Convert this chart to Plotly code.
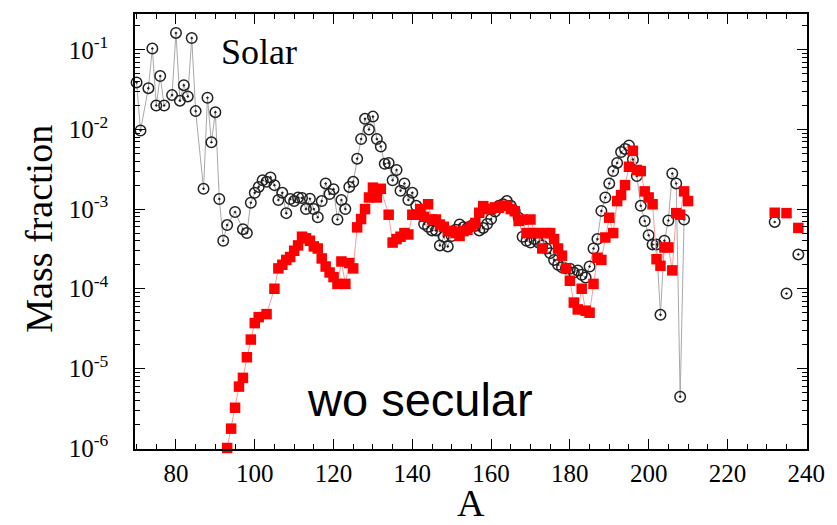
import plotly.graph_objects as go

# Solar abundance pattern (mass fraction vs mass number A)
solar_A = [70, 71, 73, 74, 75, 76, 77, 79, 80, 81, 82, 83, 84, 85, 87, 88, 89, 90,
           91, 92, 93, 95, 97, 98, 99, 100, 101, 102, 103, 104, 105, 106, 107, 108,
           109, 110, 111, 112, 113, 114, 115, 116, 117, 118, 119, 120, 121, 122, 123,
           124, 125, 126, 127, 128, 129, 130, 131, 132, 133, 134, 135, 136, 137, 138,
           139, 140, 141, 142, 143, 144, 145, 146, 147, 148, 149, 150, 151, 152, 153,
           154, 155, 156, 157, 158, 159, 160, 161, 162, 163, 164, 165, 166, 167, 168,
           169, 170, 171, 172, 173, 174, 175, 176, 177, 178, 179, 180, 181, 182, 183,
           184, 185, 186, 187, 188, 189, 190, 191, 192, 193, 194, 195, 196, 197, 198,
           199, 200, 201, 202, 203, 204, 205, 206, 207, 208, 209]
solar_X = [0.039, 0.0097, 0.033, 0.104, 0.020, 0.047, 0.020, 0.027, 0.163, 0.023,
           0.036, 0.026, 0.141, 0.017, 0.0018, 0.025, 0.0069, 0.0165, 0.00134, 0.0004,
           0.00063, 0.00092, 0.00056, 0.0005, 0.0012, 0.0016, 0.0019, 0.0023, 0.0022,
           0.0025, 0.002, 0.0013, 0.0016, 0.00089, 0.00134, 0.00126, 0.0014, 0.00138,
           0.001, 0.00135, 0.001, 0.00079, 0.00126, 0.0021, 0.00155, 0.00178, 0.00074,
           0.0013, 0.001, 0.0019, 0.0022, 0.0043, 0.0076, 0.0136, 0.010, 0.0145,
           0.0076, 0.0061, 0.0037, 0.0038, 0.0023, 0.0031, 0.0017, 0.0021, 0.0013,
           0.0016, 0.0011, 0.0009, 0.00065, 0.0006, 0.00054, 0.00054, 0.00035,
           0.00045, 0.00034, 0.00046, 0.00055, 0.00064, 0.00059, 0.00058, 0.00062,
           0.00062, 0.00054, 0.00058, 0.00065, 0.00075, 0.00093, 0.0011, 0.00115,
           0.00126, 0.0011, 0.00095, 0.00078, 0.00045, 0.0004, 0.00038, 0.00042,
           0.00038, 0.00035, 0.00032, 0.00028, 0.00023, 0.0002, 0.000186, 0.00018,
           0.000178, 0.00016, 0.00017, 0.00015, 0.000138, 0.00019, 0.00032, 0.00042,
           0.00095, 0.0014, 0.0021, 0.003, 0.0038, 0.0052, 0.0057, 0.0063, 0.0042,
           0.0026, 0.0011, 0.00071, 0.00047, 0.00036, 0.00036, 0.000047, 0.0004,
           0.00072, 0.0028, 0.0021, 0.0000044, 0.00074]
# Actinides (plotted as isolated points)
solar_act_A = [232, 235, 238]
solar_act_X = [0.00069, 0.000087, 0.00027]

# Model without secular evolution
model_A = [93, 94, 95, 96, 97, 98, 99, 100, 101, 103, 105, 106, 107, 108, 109, 110,
           111, 112, 113, 114, 115, 116, 117, 118, 119, 120, 121, 122, 123, 124, 125,
           126, 127, 128, 129, 130, 131, 132, 134, 135, 136, 137, 138, 139, 140, 141,
           142, 143, 144, 145, 146, 147, 148, 149, 150, 151, 152, 153, 154, 155, 156,
           157, 158, 159, 160, 161, 162, 163, 164, 165, 166, 167, 168, 169, 170, 171,
           172, 173, 174, 175, 176, 177, 178, 179, 180, 181, 182, 183, 184, 185, 186,
           187, 188, 189, 190, 191, 192, 193, 194, 195, 196, 197, 198, 199, 200, 201,
           202, 203, 204, 205, 206, 207, 208, 209, 210]
model_X = [1.0e-6, 1.75e-6, 3.2e-6, 5.9e-6, 7.6e-6, 1.38e-5, 2.3e-5, 3.7e-5, 4.4e-5,
           4.8e-5, 1.0e-4, 1.8e-4, 2.0e-4, 2.3e-4, 2.5e-4, 3.0e-4, 3.5e-4, 4.5e-4,
           4.3e-4, 4.0e-4, 3.4e-4, 3.2e-4, 2.4e-4, 1.9e-4, 1.6e-4, 1.4e-4, 1.15e-4,
           2.2e-4, 1.15e-4, 2.1e-4, 1.8e-4, 5.9e-4, 7.5e-4, 1.0e-3, 1.4e-3, 1.86e-3,
           1.4e-3, 1.8e-3, 8.5e-4, 3.8e-4, 4.2e-4, 4.5e-4, 5.0e-4, 4.8e-4, 8.5e-4,
           8.5e-4, 1.0e-3, 8.0e-4, 1.15e-3, 7.4e-4, 7.4e-4, 6.4e-4, 6.0e-4, 5.3e-4,
           5.3e-4, 5.0e-4, 4.6e-4, 5.3e-4, 5.5e-4, 6.0e-4, 6.7e-4, 9.0e-4, 1.09e-3,
           1.0e-3, 1.0e-3, 1.05e-3, 1.04e-3, 1.1e-3, 1.1e-3, 1.0e-3, 9.4e-4, 7.1e-4,
           7.4e-4, 5.0e-4, 7.4e-4, 5.0e-4, 5.0e-4, 3.2e-4, 5.0e-4, 5.0e-4, 4.2e-4,
           3.2e-4, 2.6e-4, 1.8e-4, 1.26e-4, 6.7e-5, 5.5e-5, 1.0e-4, 5.3e-5, 5.0e-5,
           1.15e-4, 2.45e-4, 2.3e-4, 4.4e-4, 7.8e-4, 5.0e-4, 1.26e-3, 1.5e-3, 2.0e-3,
           3.4e-3, 5.4e-3, 3.1e-3, 3.0e-3, 1.67e-3, 1.4e-3, 1.15e-3, 2.35e-4, 1.94e-4,
           3.3e-4, 3.3e-4, 1.7e-4, 8.9e-4, 8.5e-4, 1.67e-3, 1.26e-3]
model_act_A = [232, 235, 238]
model_act_X = [9.0e-4, 8.9e-4, 5.8e-4]

y_tick_exp = [-6, -5, -4, -3, -2, -1]
x_tick_vals = [80, 100, 120, 140, 160, 180, 200, 220, 240]


def with_gaps(a_main, v_main, a_iso, v_iso):
    """Append isolated points, separated by None so no line joins them."""
    a, v = list(a_main), list(v_main)
    for ai, vi in zip(a_iso, v_iso):
        a += [None, ai]
        v += [None, vi]
    return a, v


sA, sX = with_gaps(solar_A, solar_X, solar_act_A, solar_act_X)
mA, mX = with_gaps(model_A, model_X, model_act_A, model_act_X)

fig = go.Figure()
fig.add_trace(go.Scatter(
    x=sA, y=sX, mode="lines+markers", connectgaps=False,
    line=dict(color="#a8a8a8", width=1),
    marker=dict(symbol="circle-open-dot", size=10.5, color="#222222",
                line=dict(width=1.5)),
    cliponaxis=False, showlegend=False))
fig.add_trace(go.Scatter(
    x=mA, y=mX, mode="lines+markers", connectgaps=False,
    line=dict(color="#ff9a9a", width=1),
    marker=dict(symbol="square", size=10.5, color="#ff0000", line=dict(width=0)),
    cliponaxis=False, showlegend=False))

serif = "Liberation Serif"
minor_y = [k * 10.0 ** e for e in range(-7, 0) for k in range(2, 10)]

fig.update_xaxes(
    range=[69.6, 240.2], showline=True, linecolor="black", linewidth=1.5,
    mirror="allticks", ticks="inside", ticklen=10, tickwidth=1.2, tickcolor="black",
    tickmode="array", tickvals=x_tick_vals,
    minor=dict(ticks="inside", ticklen=5, dtick=5, tick0=0, tickcolor="black",
               showgrid=False),
    showgrid=False, zeroline=False, ticklabelstandoff=1,
    tickfont=dict(family=serif, size=25, color="black"))
fig.update_yaxes(
    type="log", range=[-6.0125, -0.55], showline=True, linecolor="black",
    linewidth=1.5, mirror="allticks", ticks="inside", ticklen=10, tickwidth=1.2,
    tickcolor="black",
    tickmode="array", tickvals=[10.0 ** e for e in y_tick_exp],
    ticktext=[f"10<sup>{e}</sup>" for e in y_tick_exp],
    minor=dict(ticks="inside", ticklen=5, tickmode="array", tickvals=minor_y,
               tickcolor="black", showgrid=False),
    showgrid=False, zeroline=False, ticklabelstandoff=20,
    tickfont=dict(family=serif, size=25, color="black"))

fig.add_annotation(text="Solar", xref="paper", yref="paper",
                   x=(260 - 135) / 677, y=(449 - 50) / 437,
                   xanchor="center", yanchor="middle", showarrow=False,
                   font=dict(family=serif, size=36, color="black"))
fig.add_annotation(text="wo secular", xref="paper", yref="paper",
                   x=(422 - 135) / 677, y=(449 - 399) / 437,
                   xanchor="center", yanchor="middle", showarrow=False,
                   font=dict(family="Liberation Sans", size=47, color="black"))
fig.add_annotation(text="A", xref="paper", yref="paper",
                   x=0.5, y=(449 - 503) / 437,
                   xanchor="center", yanchor="middle", showarrow=False,
                   font=dict(family=serif, size=38, color="black"))
fig.add_annotation(text="Mass fraction", xref="paper", yref="paper",
                   x=(38 - 135) / 677, y=(449 - 228) / 437, textangle=-90,
                   xanchor="center", yanchor="middle", showarrow=False,
                   font=dict(family=serif, size=38, color="black"))

fig.update_layout(
    width=837, height=525, margin=dict(l=135, r=25, t=12, b=76),
    paper_bgcolor="white", plot_bgcolor="white")

fig.write_html("out.html")
